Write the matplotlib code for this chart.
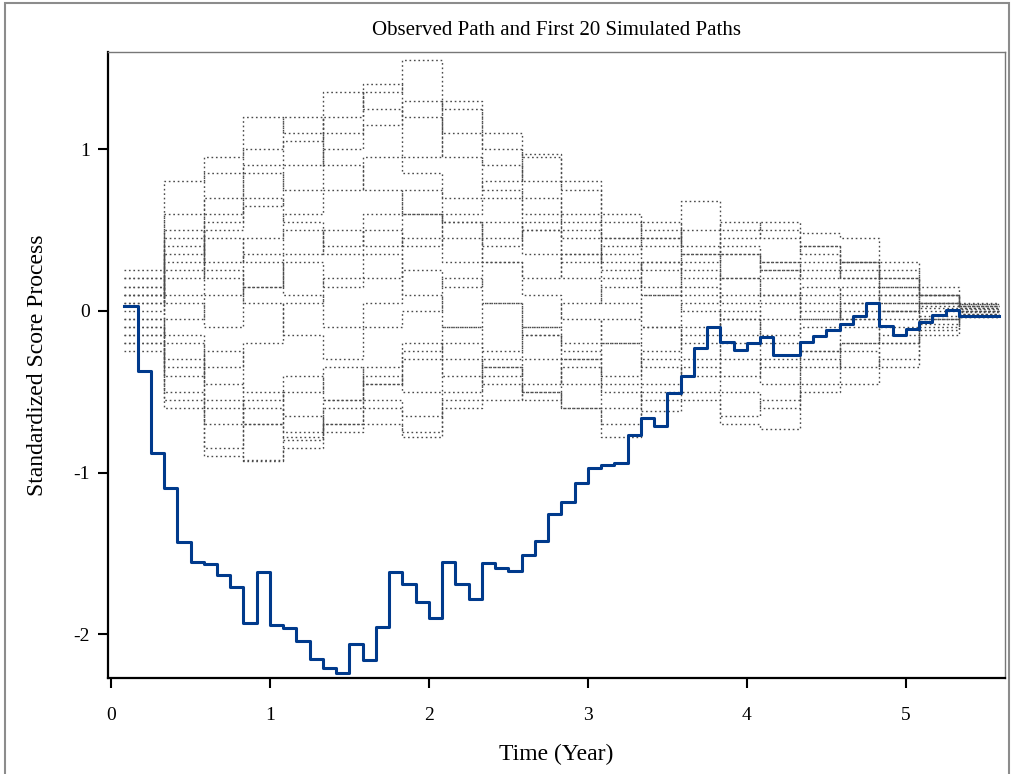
import numpy as np
import matplotlib
matplotlib.use("Agg")
import matplotlib.pyplot as plt
import matplotlib.patches as patches

# monthly grid for the observed path: value k held on [k/12, (k+1)/12]
observed = [0.03, -0.37, -0.88, -1.095, -1.43, -1.55, -1.565, -1.635, -1.71, -1.93,
            -1.615, -1.94, -1.96, -2.04, -2.15, -2.21, -2.24, -2.06, -2.16, -1.955,
            -1.615, -1.69, -1.80, -1.90, -1.55, -1.69, -1.78, -1.56, -1.59, -1.61,
            -1.51, -1.42, -1.255, -1.18, -1.064, -0.97, -0.95, -0.94, -0.765, -0.66,
            -0.71, -0.51, -0.40, -0.23, -0.10, -0.19, -0.24, -0.20, -0.16, -0.27,
            -0.27, -0.195, -0.155, -0.12, -0.08, -0.035, 0.05, -0.095, -0.15, -0.11,
            -0.068, -0.027, 0.006, -0.03, -0.03, -0.03]

# simulated paths, one value per quarter (3 months), starting at month 1
sim_paths = [
    [0.1, 0.45, 0.7, 0.9, 1.05, 1.2, 1.35, 1.55, 1.25, 1.0, 0.8, 0.6, 0.45, 0.4, 0.5, 0.35, 0.3, 0.25, 0.2, 0.1, 0.05, 0.02],
    [-0.2, -0.55, -0.9, -0.92, -0.78, -0.7, -0.6, -0.75, -0.55, -0.4, -0.3, -0.45, -0.6, -0.5, -0.35, -0.4, -0.3, -0.25, -0.2, -0.15, -0.08, -0.03],
    [0.25, 0.8, 0.95, 1.2, 1.1, 0.9, 0.75, 0.6, 0.55, 0.45, 0.5, 0.35, 0.2, 0.1, 0.15, 0.05, 0.1, 0.0, -0.05, 0.0, 0.03, 0.04],
    [0.05, 0.3, 0.55, 0.65, 0.9, 1.35, 1.25, 0.95, 1.3, 1.1, 0.95, 0.75, 0.55, 0.45, 0.68, 0.5, 0.45, 0.35, 0.3, 0.15, 0.1, 0.02],
    [-0.1, -0.3, -0.55, -0.7, -0.75, -0.6, -0.45, -0.3, -0.2, -0.35, -0.5, -0.6, -0.78, -0.62, -0.55, -0.7, -0.73, -0.5, -0.45, -0.3, -0.15, -0.04],
    [0.15, 0.5, 0.3, 0.45, 0.6, 0.75, 0.95, 0.85, 0.7, 0.8, 0.97, 0.8, 0.6, 0.5, 0.4, 0.55, 0.5, 0.48, 0.45, 0.3, 0.15, 0.05],
    [-0.25, -0.4, -0.25, -0.5, -0.65, -0.75, -0.7, -0.78, -0.6, -0.55, -0.45, -0.3, -0.2, -0.35, -0.5, -0.65, -0.55, -0.35, -0.2, -0.1, -0.05, 0.0],
    [0.2, 0.1, 0.25, 0.15, 0.35, 0.5, 0.4, 0.6, 0.45, 0.3, 0.2, 0.35, 0.3, 0.15, 0.25, 0.1, 0.2, 0.3, 0.25, 0.15, 0.05, 0.03],
    [-0.05, 0.2, 0.45, 0.3, 0.1, -0.1, 0.05, 0.25, 0.15, 0.3, 0.1, -0.05, -0.2, -0.1, 0.05, 0.2, 0.1, -0.05, 0.05, -0.05, 0.0, -0.02],
    [0.1, -0.15, -0.35, -0.2, 0.05, 0.2, 0.35, 0.1, -0.1, -0.25, -0.1, 0.05, 0.15, 0.3, 0.2, 0.35, 0.25, 0.1, 0.15, 0.05, -0.03, 0.01],
    [-0.15, -0.05, 0.1, 0.35, 0.5, 0.4, 0.6, 0.75, 0.55, 0.4, 0.55, 0.45, 0.25, 0.3, 0.1, -0.05, 0.05, 0.15, 0.05, 0.1, 0.05, 0.0],
    [0.05, 0.6, 0.85, 1.0, 1.2, 1.1, 1.4, 1.2, 0.95, 0.75, 0.6, 0.5, 0.35, 0.45, 0.3, 0.4, 0.25, 0.2, 0.3, 0.2, 0.1, 0.04],
    [-0.1, -0.5, -0.7, -0.55, -0.4, -0.55, -0.35, -0.2, -0.4, -0.3, -0.15, -0.25, -0.4, -0.25, -0.1, -0.3, -0.45, -0.3, -0.35, -0.2, -0.1, -0.03],
    [0.2, 0.4, 0.2, 0.05, -0.15, -0.3, -0.1, 0.0, 0.2, 0.05, -0.15, -0.3, -0.45, -0.3, -0.15, -0.05, -0.2, -0.1, 0.0, 0.05, 0.02, 0.03],
    [-0.2, -0.6, -0.85, -0.7, -0.5, -0.35, -0.45, -0.25, -0.1, 0.05, -0.1, -0.2, -0.05, 0.1, 0.0, -0.15, -0.05, 0.05, -0.05, 0.0, -0.05, -0.01],
    [0.1, 0.25, 0.5, 0.7, 0.55, 0.35, 0.5, 0.4, 0.6, 0.7, 0.5, 0.3, 0.4, 0.25, 0.35, 0.2, 0.3, 0.4, 0.3, 0.2, 0.1, 0.02],
    [-0.05, -0.2, -0.45, -0.6, -0.8, -0.55, -0.4, -0.5, -0.3, -0.45, -0.55, -0.35, -0.5, -0.55, -0.4, -0.2, -0.35, -0.25, -0.1, -0.2, -0.05, -0.02],
    [0.15, 0.05, -0.1, 0.15, 0.3, 0.15, 0.2, 0.45, 0.3, 0.55, 0.35, 0.2, 0.05, -0.1, -0.2, 0.0, -0.15, -0.05, 0.1, 0.0, 0.05, 0.0],
    [0.0, 0.35, 0.6, 0.85, 0.75, 1.0, 1.15, 1.3, 1.1, 0.9, 0.7, 0.55, 0.45, 0.55, 0.35, 0.45, 0.55, 0.4, 0.2, 0.25, 0.1, 0.03],
    [-0.15, -0.35, -0.6, -0.93, -0.85, -0.7, -0.55, -0.65, -0.5, -0.35, -0.5, -0.6, -0.7, -0.45, -0.3, -0.5, -0.6, -0.45, -0.25, -0.35, -0.12, -0.04],
]

x_ticks = [0, 1, 2, 3, 4, 5]
y_ticks = [-2, -1, 0, 1]

plt.rcParams['font.family'] = ['Liberation Serif', 'DejaVu Serif']
plt.rcParams['axes.unicode_minus'] = False

fig = plt.figure(figsize=(10.13, 7.74), dpi=100)
ax = fig.add_axes([0.1066, 0.124, 0.8855, 0.8088])

# outer frame of the output window
fig.patches.append(patches.Rectangle((5 / 1013, -0.1), 1004 / 1013, 1.1 - 3 / 774,
                                     transform=fig.transFigure, fill=False,
                                     edgecolor='#8c8c8c', linewidth=1.5))

# simulated paths (quarterly steps)
for path in sim_paths:
    t = (1 + 3 * np.arange(len(path) + 1)) / 12.0
    y = list(path) + [path[-1]]
    ax.step(t, y, where='post', color='#4a4a4a', linewidth=1.0,
            linestyle=(0, (1.2, 2.0)), zorder=2)

# observed path
t_obs = (1 + np.arange(len(observed) + 1)) / 12.0
ax.step(t_obs, observed + [observed[-1]], where='post', color='#003a8c',
        linewidth=2.2, zorder=3)

ax.set_xlim(-0.019, 5.623)
ax.set_ylim(-2.27, 1.60)
ax.set_xticks(x_ticks)
ax.set_yticks(y_ticks)
ax.tick_params(axis='both', direction='out', length=7, width=1.5, labelsize=14)
ax.tick_params(axis='x', pad=14)
ax.tick_params(axis='y', pad=6)

for side in ['left', 'bottom']:
    ax.spines[side].set_linewidth(1.6)
    ax.spines[side].set_color('black')
for side in ['top', 'right']:
    ax.spines[side].set_linewidth(1.0)
    ax.spines[side].set_color('#777777')

ax.set_title('Observed Path and First 20 Simulated Paths', fontsize=15, pad=12)
ax.set_xlabel('Time (Year)', fontsize=17, labelpad=14)
ax.set_ylabel('Standardized Score Process', fontsize=17, labelpad=18)

fig.savefig('out.png', dpi=100)
